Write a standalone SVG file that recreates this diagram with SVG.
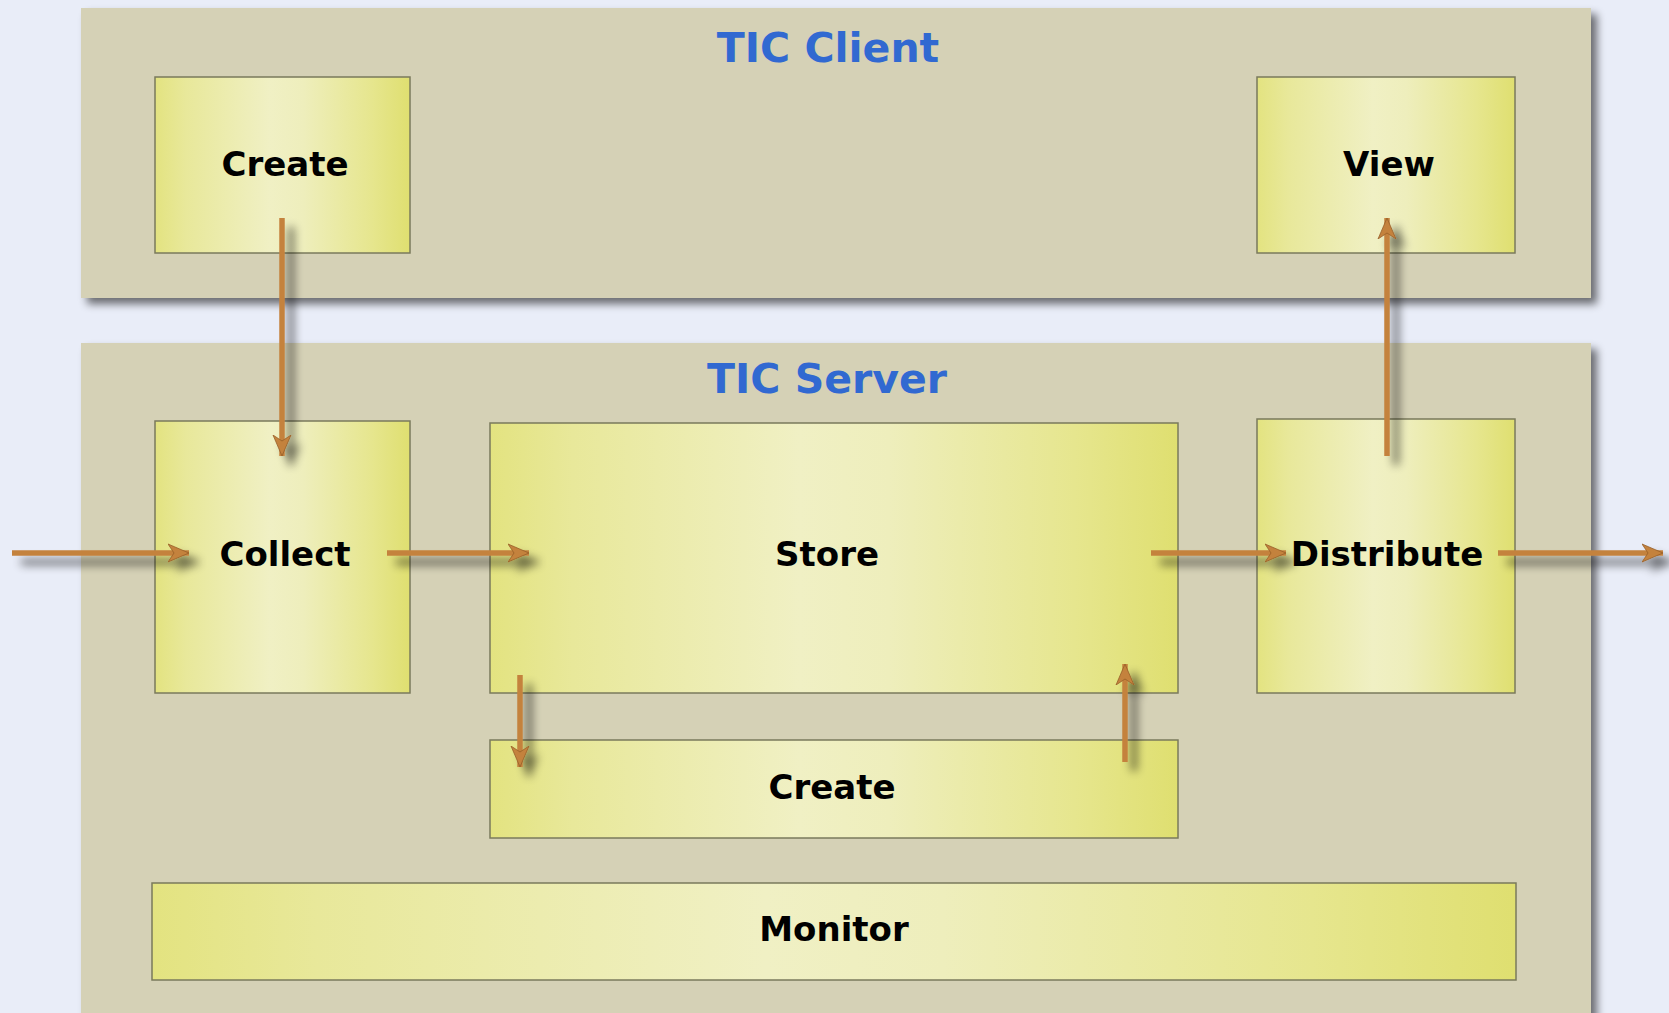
<svg xmlns="http://www.w3.org/2000/svg" width="1669" height="1013" viewBox="0 0 1669 1013">
  <defs>
    <linearGradient id="boxGrad" x1="0" y1="0" x2="1" y2="0">
      <stop offset="0" stop-color="#E3E380"/>
      <stop offset="0.12" stop-color="#E8E89A"/>
      <stop offset="0.45" stop-color="#F0F0C4"/>
      <stop offset="0.58" stop-color="#EEEEBC"/>
      <stop offset="0.85" stop-color="#E6E68E"/>
      <stop offset="1" stop-color="#DFDF70"/>
    </linearGradient>
    <filter id="panelShadow" x="-5%" y="-5%" width="112%" height="115%">
      <feGaussianBlur in="SourceAlpha" stdDeviation="4"/>
      <feOffset dx="6" dy="6" result="b"/>
      <feComponentTransfer><feFuncA type="linear" slope="0.55"/></feComponentTransfer>
      <feMerge><feMergeNode/><feMergeNode in="SourceGraphic"/></feMerge>
    </filter>
    <filter id="arrowShadow" x="-50%" y="-50%" width="200%" height="200%">
      <feGaussianBlur in="SourceAlpha" stdDeviation="5"/>
      <feOffset dx="9" dy="9" result="b"/>
      <feComponentTransfer><feFuncA type="linear" slope="0.6"/></feComponentTransfer>
      <feMerge><feMergeNode/><feMergeNode in="SourceGraphic"/></feMerge>
    </filter>
    <marker id="head" markerUnits="userSpaceOnUse" markerWidth="26" markerHeight="22" viewBox="0 -11 26 22" refX="21" refY="0" orient="auto">
      <path d="M0,-9 L21,0 L0,9 L6,0 Z" fill="#C4823C" stroke="#98602A" stroke-width="0.8"/>
    </marker>
  </defs>
  <style>
    .panel { fill: #D5D1B6; }
    .box { fill: url(#boxGrad); stroke: #7A7A5C; stroke-width: 1.5; }
    .title { font-family: "DejaVu Sans", Verdana, sans-serif; font-weight: bold; font-size: 41px; fill: #3169D1; text-anchor: middle; }
    .label { font-family: "DejaVu Sans", Verdana, sans-serif; font-weight: bold; font-size: 34px; fill: #000000; text-anchor: middle; }
    .arrow { stroke: #C4823C; stroke-width: 5.5; fill: none; marker-end: url(#head); }
  </style>

  <rect x="0" y="0" width="1669" height="1013" fill="#E9EDF8"/>

  <g id="client-panel">
    <rect class="panel" x="81" y="8" width="1510" height="290" filter="url(#panelShadow)"/>
    <text class="title" x="828" y="62">TIC Client</text>
  </g>

  <g id="server-panel">
    <rect class="panel" x="81" y="343" width="1510" height="690" filter="url(#panelShadow)"/>
    <text class="title" x="827" y="393">TIC Server</text>
  </g>

  <g id="client-create">
    <rect class="box" x="155" y="77" width="255" height="176"/>
    <text class="label" x="285" y="176">Create</text>
  </g>

  <g id="view">
    <rect class="box" x="1257" y="77" width="258" height="176"/>
    <text class="label" x="1389" y="176">View</text>
  </g>

  <g id="collect">
    <rect class="box" x="155" y="421" width="255" height="272"/>
    <text class="label" x="285" y="566">Collect</text>
  </g>

  <g id="store">
    <rect class="box" x="490" y="423" width="688" height="270"/>
    <text class="label" x="827" y="566">Store</text>
  </g>

  <g id="distribute">
    <rect class="box" x="1257" y="419" width="258" height="274"/>
    <text class="label" x="1387" y="566">Distribute</text>
  </g>

  <g id="server-create">
    <rect class="box" x="490" y="740" width="688" height="98"/>
    <text class="label" x="832" y="799">Create</text>
  </g>

  <g id="monitor">
    <rect class="box" x="152" y="883" width="1364" height="97"/>
    <text class="label" x="834" y="941">Monitor</text>
  </g>

  <g id="connectors" filter="url(#arrowShadow)">
    <line class="arrow" x1="282" y1="218" x2="282" y2="456"/>
    <line class="arrow" x1="1387" y1="456" x2="1387" y2="218"/>
    <line class="arrow" x1="12" y1="553" x2="189" y2="553"/>
    <line class="arrow" x1="387" y1="553" x2="529" y2="553"/>
    <line class="arrow" x1="1151" y1="553" x2="1286" y2="553"/>
    <line class="arrow" x1="1498" y1="553" x2="1663" y2="553"/>
    <line class="arrow" x1="520" y1="675" x2="520" y2="767"/>
    <line class="arrow" x1="1125" y1="762" x2="1125" y2="664"/>
  </g>
</svg>
